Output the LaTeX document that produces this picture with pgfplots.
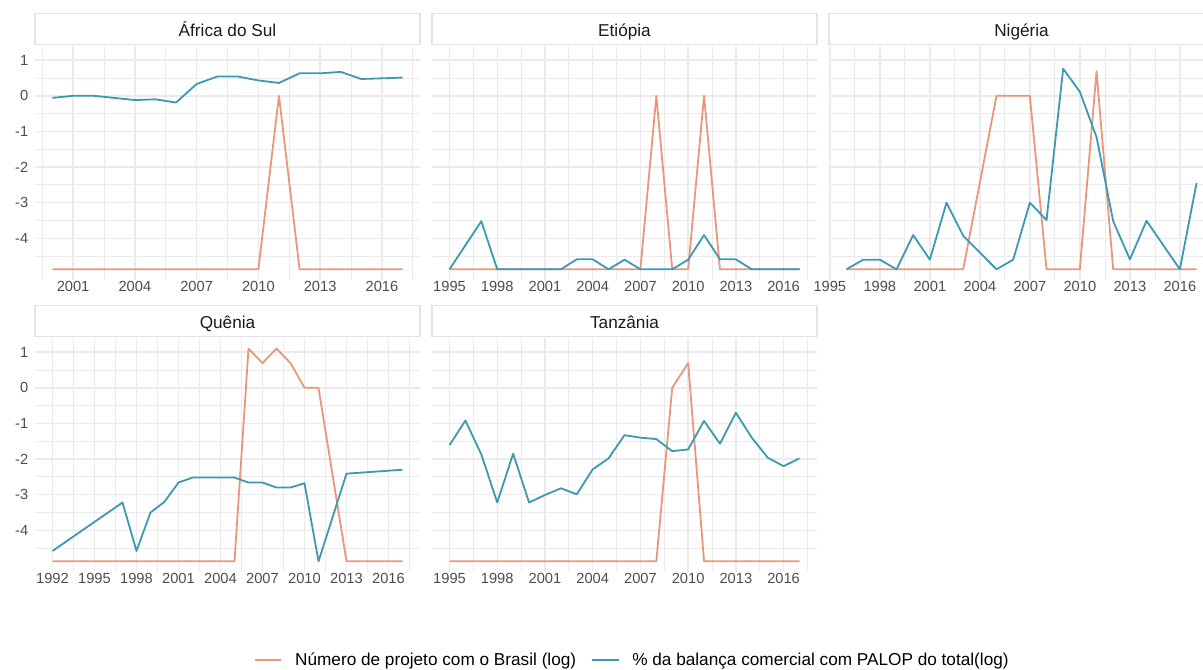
\documentclass[border=0pt]{standalone}
\usepackage{fontspec}
\setmainfont{Liberation Sans}
\usepackage{pgfplots}
\pgfplotsset{compat=1.18}
\definecolor{salmonc}{HTML}{E9967A}
\definecolor{tealc}{HTML}{3B9AB2}
\definecolor{gridc}{HTML}{EBEBEB}
\definecolor{tickc}{HTML}{4D4D4D}
\definecolor{stripc}{HTML}{1A1A1A}
\definecolor{stripb}{HTML}{E3E3E3}
\pgfplotsset{
  every axis title shift=0pt,
  panel/.style={
    scale only axis, width=288.75pt, height=175.5pt,
    anchor=south west,
    ymin=-5.17, ymax=1.397,
    ytick={-4,-3,-2,-1,0,1},
    minor ytick={-4.5,-3.5,-2.5,-1.5,-0.5,0.5},
    axis line style={draw=none},
    tick style={draw=none},
    grid=both,
    major grid style={gridc, line width=1.1pt},
    minor grid style={gridc, line width=0.55pt},
    tick label style={font=\fontsize{11}{13}\selectfont, text=tickc},
    xticklabel style={inner sep=1pt},
    yticklabel style={xshift=-1.5pt},
    yticklabels={},
    title style={at={(0.5,1)}, anchor=south, yshift=0.75pt, draw=stripb,
      line width=1.1pt, fill=white, minimum width=288.75pt,
      minimum height=23.25pt, inner sep=0pt, text height=11.8pt, text depth=0pt,
      font=\fontsize{12.9}{15}\selectfont, text=stripc},
    every axis plot/.append style={line width=1.35pt, mark=none, line join=round},
  },
  yfirst/.style={yticklabels={-4,-3,-2,-1,0,1}},
  xA/.style={xmin=1993.9, xmax=2018.1,
    xtick={1995,1998,2001,2004,2007,2010,2013,2016},
    xticklabels={1995,1998,2001,2004,2007,2010,2013,2016},
    minor xtick={1996.5,1999.5,2002.5,2005.5,2008.5,2011.5,2014.5,2017.5}},
}
\begin{document}
\begin{tikzpicture}
\path[use as bounding box] (0,0) rectangle (902.25pt,502.5pt);

% Africa do Sul
\begin{axis}[panel, yfirst, at={(26.25pt,292.5pt)}, title={África do Sul},
  xmin=1999.15, xmax=2017.85,
  xtick={2001,2004,2007,2010,2013,2016},
  xticklabels={2001,2004,2007,2010,2013,2016},
  minor xtick={1999.5,2002.5,2005.5,2008.5,2011.5,2014.5,2017.5}]
\addplot[salmonc] coordinates {(2000,-4.87)(2001,-4.87)(2002,-4.87)(2003,-4.87)(2004,-4.87)(2005,-4.87)(2006,-4.87)(2007,-4.87)(2008,-4.87)(2009,-4.87)(2010,-4.87)(2011,0)(2012,-4.87)(2013,-4.87)(2014,-4.87)(2015,-4.87)(2016,-4.87)(2017,-4.87)};
\addplot[tealc] coordinates {(2000,-0.06)(2001,0.0)(2002,0.0)(2003,-0.06)(2004,-0.12)(2005,-0.10)(2006,-0.19)(2007,0.33)(2008,0.54)(2009,0.54)(2010,0.43)(2011,0.36)(2012,0.63)(2013,0.63)(2014,0.67)(2015,0.47)(2016,0.49)(2017,0.51)};
\end{axis}

% Etiopia
\begin{axis}[panel, xA, at={(324pt,292.5pt)}, title={Etiópia}]
\addplot[salmonc] coordinates {(1995,-4.87)(1996,-4.87)(1997,-4.87)(1998,-4.87)(1999,-4.87)(2000,-4.87)(2001,-4.87)(2002,-4.87)(2003,-4.87)(2004,-4.87)(2005,-4.87)(2006,-4.87)(2007,-4.87)(2008,0)(2009,-4.87)(2010,-4.87)(2011,0)(2012,-4.87)(2013,-4.87)(2014,-4.87)(2015,-4.87)(2016,-4.87)(2017,-4.87)};
\addplot[tealc] coordinates {(1995,-4.87)(1997,-3.52)(1998,-4.87)(1999,-4.87)(2000,-4.87)(2001,-4.87)(2002,-4.87)(2003,-4.59)(2004,-4.59)(2005,-4.87)(2006,-4.60)(2007,-4.87)(2008,-4.87)(2009,-4.87)(2010,-4.60)(2011,-3.91)(2012,-4.59)(2013,-4.59)(2014,-4.87)(2015,-4.87)(2016,-4.87)(2017,-4.87)};
\end{axis}

% Nigeria
\begin{axis}[panel, at={(621.75pt,292.5pt)}, title={Nigéria},
  xmin=1994.95, xmax=2018.05,
  xtick={1995,1998,2001,2004,2007,2010,2013,2016},
  xticklabels={1995,1998,2001,2004,2007,2010,2013,2016},
  minor xtick={1996.5,1999.5,2002.5,2005.5,2008.5,2011.5,2014.5,2017.5}]
\addplot[salmonc] coordinates {(1996,-4.87)(1997,-4.87)(1998,-4.87)(1999,-4.87)(2000,-4.87)(2001,-4.87)(2002,-4.87)(2003,-4.87)(2005,0)(2006,0)(2007,0)(2008,-4.87)(2009,-4.87)(2010,-4.87)(2011,0.69)(2012,-4.87)(2013,-4.87)(2014,-4.87)(2015,-4.87)(2016,-4.87)(2017,-4.87)};
\addplot[tealc] coordinates {(1996,-4.87)(1997,-4.60)(1998,-4.60)(1999,-4.87)(2000,-3.91)(2001,-4.60)(2002,-3.00)(2003,-3.93)(2005,-4.87)(2006,-4.60)(2007,-3.00)(2008,-3.49)(2009,0.76)(2010,0.11)(2011,-1.16)(2012,-3.52)(2013,-4.59)(2014,-3.51)(2016,-4.87)(2017,-2.45)};
\end{axis}

% Quenia
\begin{axis}[panel, yfirst, at={(26.25pt,73.5pt)}, title={Quênia},
  xmin=1990.75, xmax=2018.25,
  xtick={1992,1995,1998,2001,2004,2007,2010,2013,2016},
  xticklabels={1992,1995,1998,2001,2004,2007,2010,2013,2016},
  minor xtick={1993.5,1996.5,1999.5,2002.5,2005.5,2008.5,2011.5,2014.5,2017.5},
  legend columns=2,
  legend style={at={(1.552,-0.376)}, anchor=center, draw=none, fill=none,
    font=\fontsize{12.9}{15}\selectfont, text=black,
    /tikz/every odd column/.append style={column sep=7.5pt},
    /tikz/every even column/.append style={column sep=9pt}},
  legend image code/.code={\draw[#1, line width=1.6pt] (0pt,0pt) -- (20pt,0pt);}]
\addplot[salmonc] coordinates {(1992,-4.87)(1993,-4.87)(1994,-4.87)(1995,-4.87)(1996,-4.87)(1997,-4.87)(1998,-4.87)(1999,-4.87)(2000,-4.87)(2001,-4.87)(2002,-4.87)(2003,-4.87)(2004,-4.87)(2005,-4.87)(2006,1.0986)(2007,0.693)(2008,1.0986)(2009,0.693)(2010,0)(2011,0)(2013,-4.87)(2014,-4.87)(2015,-4.87)(2016,-4.87)(2017,-4.87)};
\addlegendentry{Número de projeto com o Brasil (log)}
\addplot[tealc] coordinates {(1992,-4.58)(1997,-3.22)(1998,-4.58)(1999,-3.50)(2000,-3.20)(2001,-2.66)(2002,-2.52)(2003,-2.52)(2004,-2.52)(2005,-2.52)(2006,-2.66)(2007,-2.66)(2008,-2.80)(2009,-2.80)(2010,-2.68)(2011,-4.87)(2013,-2.41)(2017,-2.30)};
\addlegendentry{\% da balança comercial com PALOP do total(log)}
\end{axis}

% Tanzania
\begin{axis}[panel, xA, at={(324pt,73.5pt)}, title={Tanzânia}]
\addplot[salmonc] coordinates {(1995,-4.87)(1996,-4.87)(1997,-4.87)(1998,-4.87)(1999,-4.87)(2000,-4.87)(2001,-4.87)(2002,-4.87)(2003,-4.87)(2004,-4.87)(2005,-4.87)(2006,-4.87)(2007,-4.87)(2008,-4.87)(2009,0)(2010,0.693)(2011,-4.87)(2012,-4.87)(2013,-4.87)(2014,-4.87)(2015,-4.87)(2016,-4.87)(2017,-4.87)};
\addplot[tealc] coordinates {(1995,-1.61)(1996,-0.92)(1997,-1.87)(1998,-3.22)(1999,-1.85)(2000,-3.22)(2001,-3.01)(2002,-2.82)(2003,-2.99)(2004,-2.29)(2005,-1.98)(2006,-1.33)(2007,-1.40)(2008,-1.44)(2009,-1.78)(2010,-1.73)(2011,-0.93)(2012,-1.57)(2013,-0.70)(2014,-1.40)(2015,-1.96)(2016,-2.20)(2017,-1.98)};
\end{axis}
\end{tikzpicture}
\end{document}
